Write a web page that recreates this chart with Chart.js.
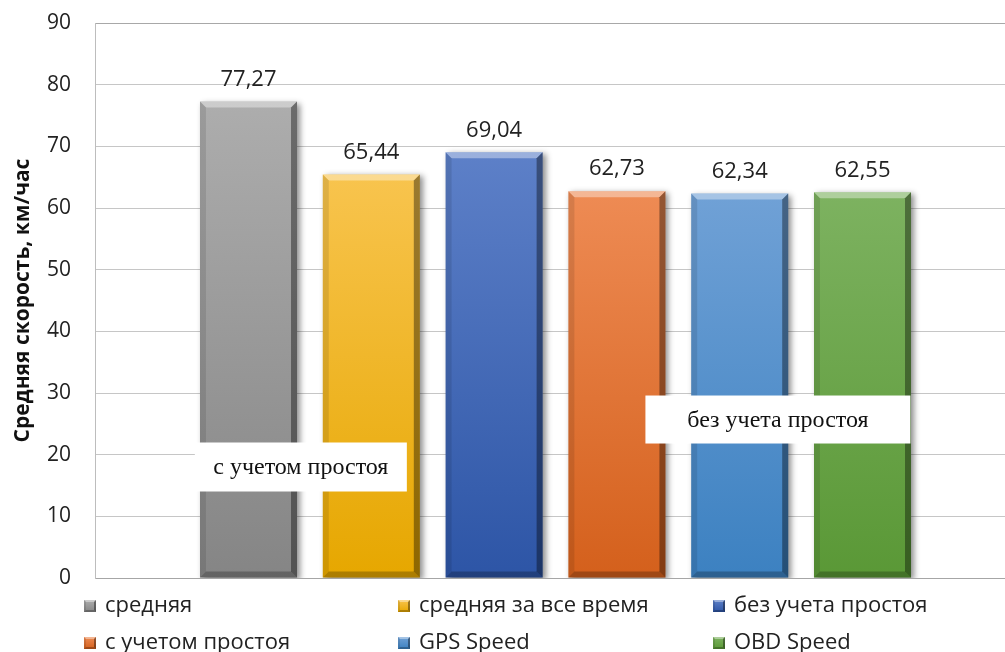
<!DOCTYPE html>
<html>
<head>
<meta charset="utf-8">
<script src="https://cdn.jsdelivr.net/npm/chart.js@4"></script>
<style>
  html, body { margin: 0; padding: 0; background: #fff; overflow: hidden; }
  #wrap { width: 1005px; height: 652px; overflow: hidden; }
</style>
</head>
<body>
<div id="wrap"><canvas id="myChart" width="1016" height="652"></canvas></div>
<script>
// series shown as separate bars in one group
const seriesNames = ['средняя', 'средняя за все время', 'без учета простоя', 'с учетом простоя', 'GPS Speed', 'OBD Speed'];
const seriesValues = [77.27, 65.44, 69.04, 62.73, 62.34, 62.55];
const yMin = 0;
const yMax = 90;
const yStep = 10;
const axisTitle = 'Средняя скорость, км/час';
// captions in the white boxes over the bars
const noteTexts = ['с учетом простоя', 'без учета простоя'];

// bar gradient colours, top -> bottom
const topColours = ['#adadad', '#f8c44e', '#5d80c8', '#ee8b54', '#70a1d6', '#7db260'];
const bottomColours = ['#858585', '#e6a700', '#2d55a6', '#d4601c', '#3c81c1', '#5a9836'];

const FONT = '"Open Sans", "Noto Sans", sans-serif';
const canvas = document.getElementById('myChart');

const fmt = (v) => v.toFixed(2).replace('.', ',');

const poly = (c, pts, fill) => {
  c.beginPath();
  c.moveTo(pts[0][0], pts[0][1]);
  for (let k = 1; k < pts.length; k++) c.lineTo(pts[k][0], pts[k][1]);
  c.closePath();
  c.fillStyle = fill;
  c.fill();
};

// raised edges on a rectangle, like an office "bevel" effect
const bevel = (c, left, top, right, bottom, b) => {
  poly(c, [[left, top], [right, top], [right - b, top + b], [left + b, top + b]], 'rgba(255,255,255,0.38)');
  poly(c, [[left, top], [left + b, top + b], [left + b, bottom - b], [left, bottom]], 'rgba(0,0,0,0.10)');
  poly(c, [[right, top], [right, bottom], [right - b, bottom - b], [right - b, top + b]], 'rgba(0,0,0,0.38)');
  poly(c, [[left, bottom], [left + b, bottom - b], [right - b, bottom - b], [right, bottom]], 'rgba(0,0,0,0.25)');
};

const barStyle = {
  id: 'barStyle',
  beforeDatasetsDraw(chart) {
    const c = chart.ctx;
    c.save();
    c.shadowColor = 'rgba(0,0,0,0.45)';
    c.shadowBlur = 6;
    c.shadowOffsetX = 3;
    c.shadowOffsetY = 2;
  },
  afterDatasetsDraw(chart) {
    const c = chart.ctx;
    c.restore();
    chart.data.datasets.forEach((ds, i) => {
      const bar = chart.getDatasetMeta(i).data[0];
      const left = bar.x - bar.width / 2;
      const right = bar.x + bar.width / 2;
      bevel(c, left, bar.y, right, bar.base, 6);

      // value above the bar
      c.save();
      c.font = '22px ' + FONT;
      c.fillStyle = '#222';
      c.textAlign = 'center';
      c.textBaseline = 'middle';
      c.fillText(fmt(ds.data[0]), bar.x, bar.y - 22);
      c.restore();
    });
  },
  afterDraw(chart) {
    const c = chart.ctx;
    const area = chart.chartArea;
    const y = chart.scales.y;

    // white caption boxes
    const notes = [
      { text: noteTexts[0], cx: area.left + area.width * 0.2235, cy: y.getPixelForValue(18), w: 212, h: 49 },
      { text: noteTexts[1], cx: area.left + area.width * 0.7415, cy: y.getPixelForValue(25.7), w: 265, h: 48 },
    ];
    c.save();
    notes.forEach((n) => {
      c.fillStyle = '#fff';
      c.fillRect(n.cx - n.w / 2, n.cy - n.h / 2, n.w, n.h);
      c.fillStyle = '#111';
      c.font = '24px "Liberation Serif", "Times New Roman", serif';
      c.textAlign = 'center';
      c.textBaseline = 'middle';
      c.fillText(n.text, n.cx, n.cy + 1);
    });
    c.restore();

    // legend in a 3 column grid under the plot
    const colX = [84, 398, 713];
    const rowY = [606, 643];
    c.save();
    c.font = '22px ' + FONT;
    c.textBaseline = 'middle';
    c.textAlign = 'left';
    chart.data.datasets.forEach((ds, i) => {
      const x = colX[i % 3];
      const yc = rowY[Math.floor(i / 3)];
      const s = 12;
      const g = c.createLinearGradient(0, yc - s / 2, 0, yc + s / 2);
      g.addColorStop(0, topColours[i]);
      g.addColorStop(1, bottomColours[i]);
      c.fillStyle = g;
      c.fillRect(x, yc - s / 2, s, s);
      bevel(c, x, yc - s / 2, x + s, yc + s / 2, 2);
      c.fillStyle = '#222';
      c.fillText(ds.label, x + 21, yc);
    });
    c.restore();
  },
};

const datasets = seriesNames.map((name, i) => ({
  label: name,
  data: [seriesValues[i]],
  backgroundColor: (ctx) => {
    const chart = ctx.chart;
    if (!chart.chartArea) return bottomColours[i];
    const ys = chart.scales.y;
    const g = chart.ctx.createLinearGradient(0, ys.getPixelForValue(seriesValues[i]), 0, ys.getPixelForValue(0));
    g.addColorStop(0, topColours[i]);
    g.addColorStop(1, bottomColours[i]);
    return g;
  },
  borderWidth: 0,
  barPercentage: 0.79,
  categoryPercentage: 0.8,
}));

const myChart = new Chart(canvas.getContext('2d'), {
  type: 'bar',
  data: {
    labels: [''],
    datasets: datasets,
  },
  options: {
    responsive: false,
    animation: false,
    layout: {
      padding: { top: 23, right: 0, bottom: 74, left: 0 },
    },
    scales: {
      x: {
        ticks: { display: false },
        grid: { display: false, drawTicks: false },
        border: { display: true, color: '#a6a6a6', width: 1 },
        afterFit(scale) {
          scale.height = 0;
        },
      },
      y: {
        min: yMin,
        max: yMax,
        ticks: {
          stepSize: yStep,
          padding: 24,
          color: '#222',
          font: { family: FONT, size: 21 },
        },
        grid: {
          drawTicks: false,
          color: (ctx) => (ctx.tick && ctx.tick.value === yMax ? '#a8a8a8' : '#c6c6c6'),
        },
        border: { display: true, color: '#bdbdbd' },
        title: {
          display: true,
          text: axisTitle,
          color: '#111',
          padding: { top: 10, bottom: 0 },
          font: { family: FONT, size: 21, weight: 'bold' },
        },
        afterFit(scale) {
          scale.width = 95;
          scale.paddingTop = 0;
          scale.paddingBottom = 0;
        },
      },
    },
    plugins: {
      legend: { display: false },
      tooltip: { enabled: false },
    },
  },
  plugins: [barStyle],
});
</script>
</body>
</html>
